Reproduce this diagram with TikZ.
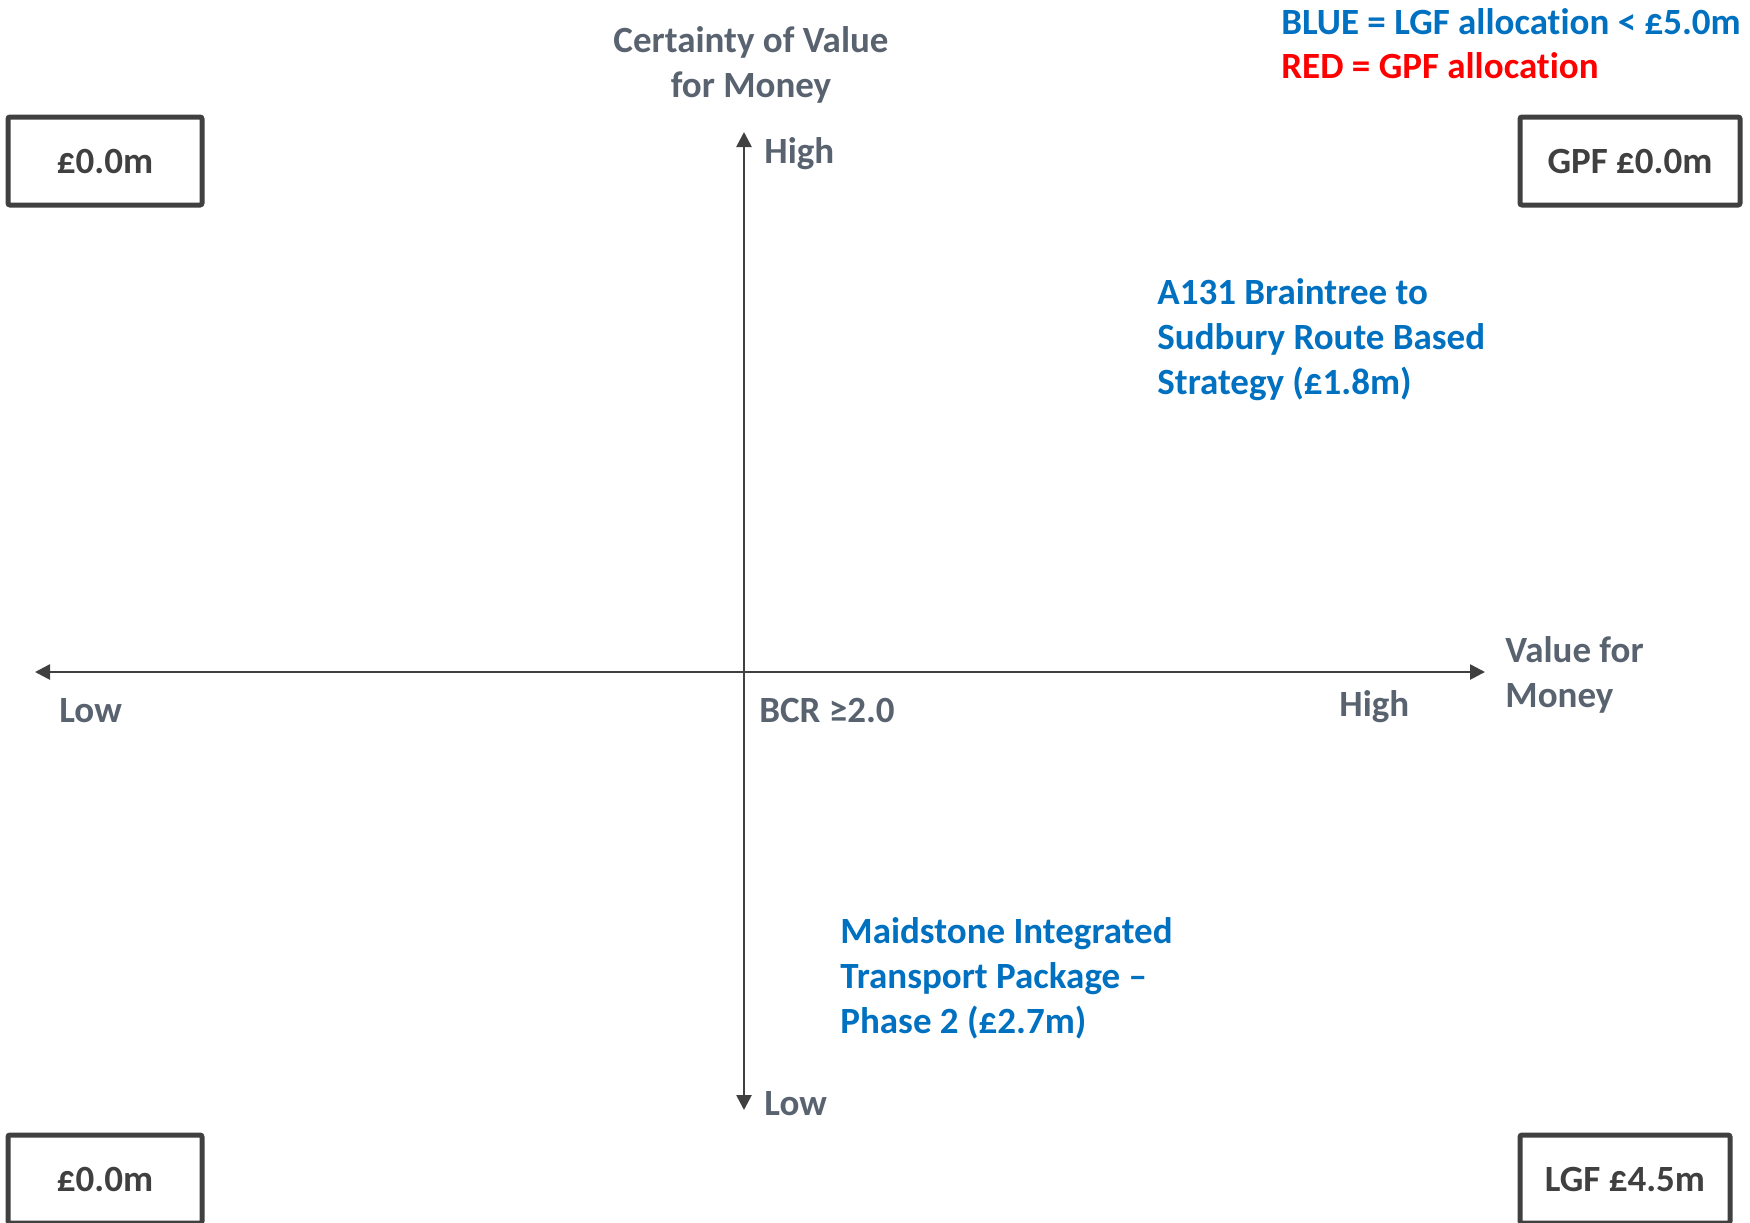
\documentclass[tikz,border=0pt]{standalone}
\usepackage{fontspec}
\setmainfont{Carlito}[Ligatures=NoCommon]
\usepackage{tikz}
\usetikzlibrary{arrows.meta,positioning}
\definecolor{axisgray}{RGB}{64,64,64}
\definecolor{labelgray}{RGB}{89,99,112}
\definecolor{lgfblue}{RGB}{0,112,192}
\definecolor{gpfred}{RGB}{255,0,0}

\begin{document}
\begin{tikzpicture}[
    x=0.5pt, y=-0.5pt,
    axis/.style={{Triangle[length=7.5pt, width=7.5pt]}-{Triangle[length=7.5pt, width=7.5pt]}, line width=1.3pt, axisgray},
    fundbox/.style={draw=axisgray, line width=2.5pt, rounded corners=1pt, minimum height=44pt, text=axisgray, font=\fontsize{18.5}{22.5}\selectfont\bfseries},
    label/.style={text=labelgray, inner sep=0pt, font=\fontsize{18.5}{22.5}\selectfont\bfseries},
    scheme/.style={text=lgfblue, align=left, anchor=west, inner sep=0pt, font=\fontsize{18.5}{22.5}\selectfont\bfseries}
]
    \useasboundingbox (0,0) rectangle (1750,1222);
    \clip (0,0) rectangle (1750,1222);

    % Axes
    \coordinate (xlow) at (35,672);
    \coordinate (xhigh) at (1485,672);
    \coordinate (ytop) at (744,132);
    \coordinate (ybot) at (744,1110);
    \draw[axis] (xlow) -- (xhigh);
    \draw[axis] (ybot) -- (ytop);

    % Axis labels
    \node[label, align=center] (ytitle) at (751,65) {Certainty of Value\\for Money};
    \node[label, anchor=west] (yhigh) at (764,154) {High};
    \node[label, anchor=west] (ylow) at (764,1104) {Low};
    \node[label, anchor=west] (xlowlbl) at (59,711) {Low};
    \node[label, anchor=west] (bcr) at (759,710) {BCR ≥2.0};
    \node[label, anchor=west] (xhighlbl) at (1339,707) {High};
    \node[label, anchor=west, align=left] (xtitle) at (1505,675) {Value for\\Money};

    % Legend
    \node[scheme, font=\fontsize{18.5}{22}\selectfont\bfseries] (legblue) at (1281,22) {BLUE = LGF allocation < £5.0m};
    \node[scheme, text=gpfred, font=\fontsize{18.5}{22}\selectfont\bfseries] (legred) at (1281,66) {RED = GPF allocation};

    % Quadrant totals
    \node[fundbox, minimum width=97pt] (topleft) at (105,161) {£0.0m};
    \node[fundbox, minimum width=110pt] (topright) at (1630,161) {GPF £0.0m};
    \node[fundbox, minimum width=97pt] (botleft) at (105,1179) {£0.0m};
    \node[fundbox, minimum width=105pt] (botright) at (1625,1179) {LGF £4.5m};

    % Schemes
    \node[scheme] (a131) at (1157,340) {A131 Braintree to\\Sudbury Route Based\\Strategy (£1.8m)};
    \node[scheme] (maidstone) at (840,978) {Maidstone Integrated\\Transport Package –\\Phase 2 (£2.7m)};
\end{tikzpicture}
\end{document}
